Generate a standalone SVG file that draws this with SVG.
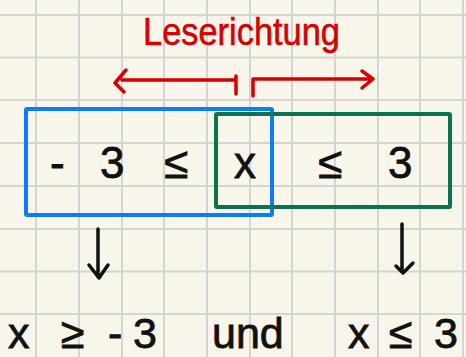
<svg xmlns="http://www.w3.org/2000/svg" width="466" height="357" viewBox="0 0 466 357">
<style>
.grid{stroke:#d4d4d2;stroke-width:2}
.red{stroke:#d60000;stroke-width:3.5;fill:none;stroke-linecap:round;stroke-linejoin:round}
.blk{stroke:#111;stroke-width:3.5;fill:none;stroke-linecap:round;stroke-linejoin:round}
.t{font-family:"Liberation Sans","DejaVu Sans",sans-serif;fill:#111;stroke:#111;stroke-width:0.8}
</style>
<rect width="466" height="357" fill="#f8f6ea"/>
<g id="grid" class="grid">
<line x1="36" y1="0" x2="36" y2="357"/><line x1="79" y1="0" x2="79" y2="357"/><line x1="122" y1="0" x2="122" y2="357"/><line x1="164" y1="0" x2="164" y2="357"/><line x1="207" y1="0" x2="207" y2="357"/><line x1="250" y1="0" x2="250" y2="357"/><line x1="292" y1="0" x2="292" y2="357"/><line x1="335" y1="0" x2="335" y2="357"/><line x1="378" y1="0" x2="378" y2="357"/><line x1="420" y1="0" x2="420" y2="357"/><line x1="463" y1="0" x2="463" y2="357"/>
<line x1="0" y1="15" x2="466" y2="15"/><line x1="0" y1="57.5" x2="466" y2="57.5"/><line x1="0" y1="100" x2="466" y2="100"/><line x1="0" y1="143" x2="466" y2="143"/><line x1="0" y1="186" x2="466" y2="186"/><line x1="0" y1="229" x2="466" y2="229"/><line x1="0" y1="271.5" x2="466" y2="271.5"/><line x1="0" y1="314" x2="466" y2="314"/>
</g>
<g id="title"><text x="143" y="45" class="t" style="fill:#d60000;stroke:#d60000;stroke-width:0.6" font-size="39" textLength="197" lengthAdjust="spacingAndGlyphs">Leserichtung</text></g>
<g id="blue-box"><rect x="26" y="109" width="246" height="106" fill="none" stroke="#0a7dff" stroke-width="4" rx="1"/></g>
<g id="green-box"><rect x="216" y="114" width="234" height="93" fill="none" stroke="#0b7350" stroke-width="4" rx="1"/></g>
<g id="inequality"><text class="t" font-size="44" y="178"><tspan x="50">-</tspan><tspan x="100">3</tspan><tspan x="164">≤</tspan><tspan x="234">x</tspan><tspan x="318">≤</tspan><tspan x="388">3</tspan></text></g>
<g id="result"><text class="t" font-size="43" y="348"><tspan x="8">x</tspan><tspan x="61">≥</tspan><tspan x="108">-</tspan><tspan x="133">3</tspan><tspan x="212">und</tspan><tspan x="348">x</tspan><tspan x="389">≤</tspan><tspan x="434">3</tspan></text></g>
<g id="connectors">
<path class="red" d="M236 80 H122 M126 70 L115 83 L124 92 M236 76 V94"/>
<path class="red" d="M253 96 V79 H373 M362 71 L373 79 L362 88"/>
<path class="blk" d="M98 229 V277 M89 265 L99 278 L108 265"/>
<path class="blk" d="M402 224 V272 M396 266 L403 273 L413 263"/>
</g>
</svg>
